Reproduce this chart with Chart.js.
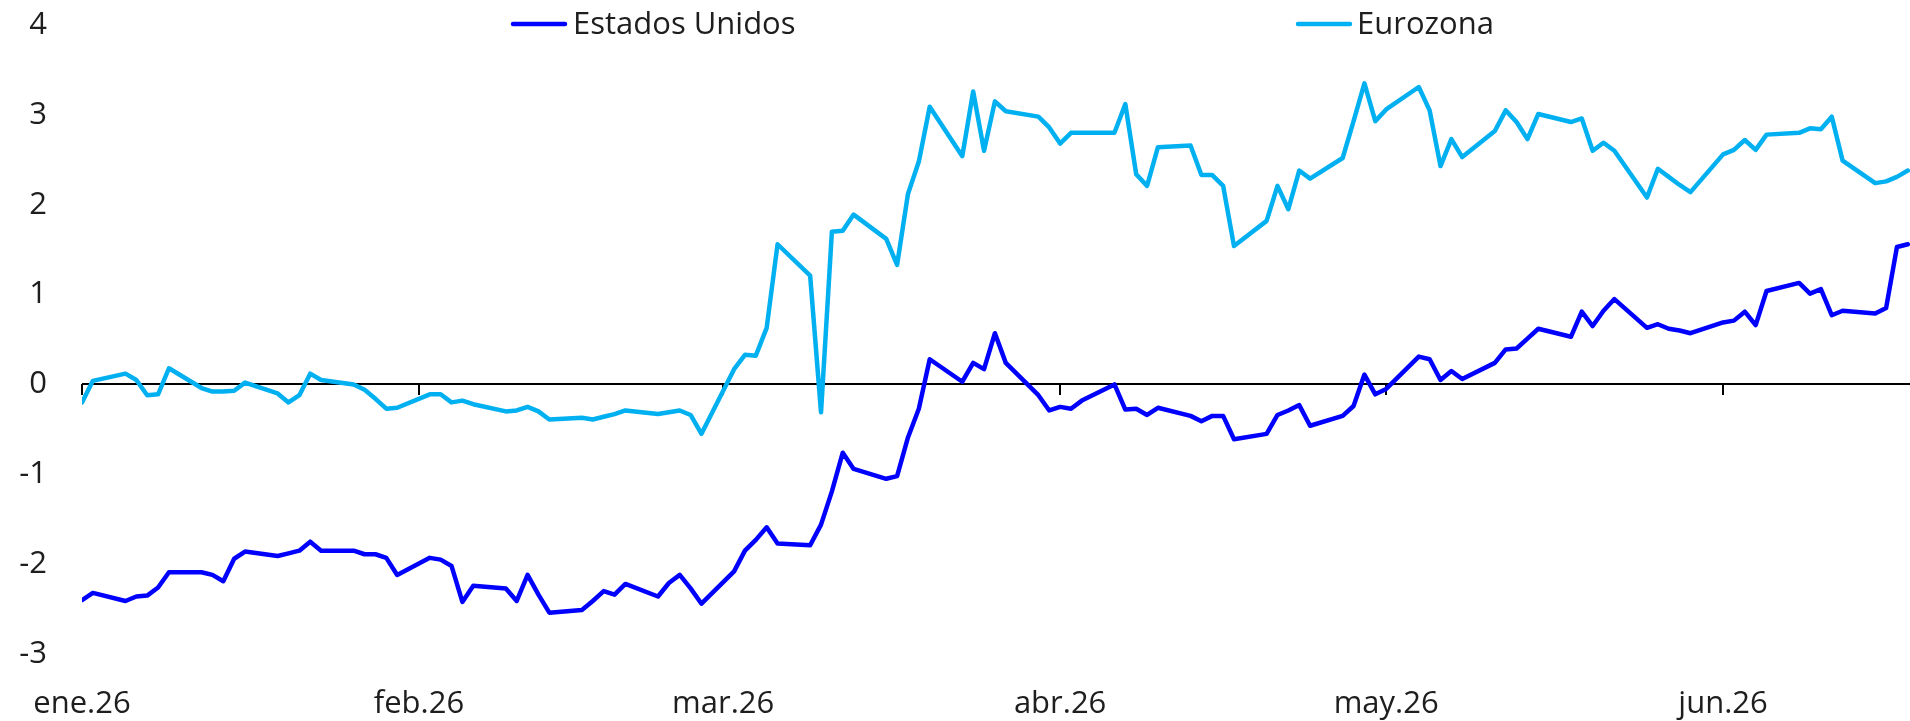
<!DOCTYPE html>
<html>
<head>
<meta charset="utf-8">
<script src="https://cdn.jsdelivr.net/npm/chart.js@4/dist/chart.umd.min.js"></script>
<style>
  html, body { margin: 0; padding: 0; background: #ffffff; }
  #wrap { width: 1910px; height: 721px; position: relative; }
</style>
</head>
<body>
<div id="wrap"><canvas id="c" width="1910" height="721"></canvas></div>
<script>
// ---- Data ----
const dates = [
  '2026-01-01','2026-01-02','2026-01-05','2026-01-06','2026-01-07','2026-01-08','2026-01-09','2026-01-12','2026-01-13','2026-01-14','2026-01-15','2026-01-16','2026-01-19','2026-01-20','2026-01-21','2026-01-22','2026-01-23','2026-01-26','2026-01-27','2026-01-28','2026-01-29','2026-01-30',
  '2026-02-02','2026-02-03','2026-02-04','2026-02-05','2026-02-06','2026-02-09','2026-02-10','2026-02-11','2026-02-12','2026-02-13','2026-02-16','2026-02-17','2026-02-18','2026-02-19','2026-02-20','2026-02-23','2026-02-24','2026-02-25','2026-02-26','2026-02-27',
  '2026-03-02','2026-03-03','2026-03-04','2026-03-05','2026-03-06','2026-03-09','2026-03-10','2026-03-11','2026-03-12','2026-03-13','2026-03-16','2026-03-17','2026-03-18','2026-03-19','2026-03-20','2026-03-23','2026-03-24','2026-03-25','2026-03-26','2026-03-27','2026-03-30','2026-03-31',
  '2026-04-01','2026-04-02','2026-04-03','2026-04-06','2026-04-07','2026-04-08','2026-04-09','2026-04-10','2026-04-13','2026-04-14','2026-04-15','2026-04-16','2026-04-17','2026-04-20','2026-04-21','2026-04-22','2026-04-23','2026-04-24','2026-04-27','2026-04-28','2026-04-29','2026-04-30',
  '2026-05-01','2026-05-04','2026-05-05','2026-05-06','2026-05-07','2026-05-08','2026-05-11','2026-05-12','2026-05-13','2026-05-14','2026-05-15','2026-05-18','2026-05-19','2026-05-20','2026-05-21','2026-05-22','2026-05-25','2026-05-26','2026-05-27','2026-05-28','2026-05-29',
  '2026-06-01','2026-06-02','2026-06-03','2026-06-04','2026-06-05','2026-06-08','2026-06-09','2026-06-10','2026-06-11','2026-06-12','2026-06-15','2026-06-16','2026-06-17','2026-06-18'
];

const estadosUnidos = [
  -2.40,-2.32,-2.41,-2.36,-2.35,-2.26,-2.09,-2.09,-2.12,-2.19,-1.94,-1.86,-1.91,-1.88,-1.85,-1.75,-1.85,-1.85,-1.89,-1.89,-1.93,-2.12,
  -1.93,-1.95,-2.02,-2.42,-2.24,-2.27,-2.41,-2.12,-2.34,-2.54,-2.51,-2.41,-2.30,-2.34,-2.22,-2.36,-2.21,-2.12,-2.27,-2.44,
  -2.08,-1.85,-1.73,-1.59,-1.77,-1.79,-1.56,-1.19,-0.76,-0.94,-1.05,-1.02,-0.59,-0.27,0.28,0.03,0.24,0.17,0.57,0.24,-0.12,-0.29,
  -0.25,-0.27,-0.18,0.00,-0.28,-0.27,-0.34,-0.26,-0.35,-0.41,-0.35,-0.35,-0.61,-0.55,-0.34,-0.29,-0.23,-0.46,-0.35,-0.24,0.11,-0.11,
  -0.05,0.31,0.28,0.05,0.15,0.06,0.24,0.39,0.40,0.51,0.62,0.53,0.81,0.65,0.82,0.95,0.63,0.67,0.62,0.60,0.57,
  0.69,0.71,0.81,0.66,1.04,1.13,1.01,1.06,0.77,0.82,0.79,0.85,1.53,1.56
];

const eurozona = [
  -0.20,0.04,0.12,0.05,-0.12,-0.11,0.18,-0.04,-0.08,-0.08,-0.07,0.02,-0.10,-0.20,-0.12,0.12,0.05,0.00,-0.06,-0.16,-0.27,-0.26,
  -0.11,-0.11,-0.20,-0.18,-0.22,-0.30,-0.29,-0.25,-0.30,-0.39,-0.37,-0.39,-0.36,-0.33,-0.29,-0.33,-0.31,-0.29,-0.34,-0.55,
  0.17,0.33,0.32,0.63,1.56,1.21,-0.31,1.70,1.71,1.89,1.62,1.33,2.12,2.48,3.09,2.54,3.26,2.60,3.15,3.04,2.98,2.86,
  2.68,2.80,2.80,2.80,3.12,2.34,2.21,2.64,2.66,2.33,2.33,2.21,1.54,1.82,2.21,1.95,2.38,2.29,2.52,2.93,3.35,2.93,
  3.06,3.31,3.05,2.43,2.73,2.53,2.82,3.05,2.92,2.73,3.01,2.92,2.96,2.60,2.69,2.60,2.08,2.40,2.31,2.22,2.14,
  2.56,2.61,2.72,2.61,2.78,2.80,2.85,2.84,2.98,2.49,2.24,2.26,2.31,2.38
];

const monthStarts = ['2026-01-01','2026-02-01','2026-03-01','2026-04-01','2026-05-01','2026-06-01'];
const monthLabels = ['ene.26','feb.26','mar.26','abr.26','may.26','jun.26'];
const yTicks = [-3,-2,-1,0,1,2,3,4];
const seriesNames = ['Estados Unidos','Eurozona'];
const seriesColors = ['#0000FF','#00B0F0'];

// ---- Helpers ----
const ORIGIN = Date.UTC(2026,0,1);
function dayIndex(s) {
  const p = s.split('-').map(Number);
  return (Date.UTC(p[0], p[1]-1, p[2]) - ORIGIN) / 86400000;
}
const monthDays = monthStarts.map(dayIndex);
const xVals = dates.map(dayIndex);

const FONT = "'Open Sans', 'Liberation Sans', sans-serif";
const TEXT = '#1e1e1e';

const axisPlugin = {
  id: 'zeroAxis',
  beforeDatasetsDraw(chart) {
    const {ctx, chartArea, scales} = chart;
    const y0 = Math.round(scales.y.getPixelForValue(0));
    ctx.save();
    ctx.strokeStyle = '#000';
    ctx.lineWidth = 2;
    ctx.beginPath();
    ctx.moveTo(chartArea.left, y0);
    ctx.lineTo(chartArea.right, y0);
    monthDays.forEach(d => {
      const x = Math.round(scales.x.getPixelForValue(d));
      ctx.moveTo(x, y0);
      ctx.lineTo(x, y0 + 11);
    });
    ctx.stroke();
    ctx.restore();
  }
};

const legendPlugin = {
  id: 'manualLegend',
  afterDraw(chart) {
    const {ctx} = chart;
    const items = [
      {x1: 513, x2: 565, tx: 573},
      {x1: 1298, x2: 1350, tx: 1357}
    ];
    ctx.save();
    ctx.font = '31px ' + FONT;
    ctx.textBaseline = 'middle';
    ctx.textAlign = 'left';
    items.forEach((it, i) => {
      ctx.strokeStyle = seriesColors[i];
      ctx.lineWidth = 4.5;
      ctx.lineCap = 'round';
      ctx.beginPath();
      ctx.moveTo(it.x1, 24);
      ctx.lineTo(it.x2, 24);
      ctx.stroke();
      ctx.fillStyle = TEXT;
      ctx.fillText(seriesNames[i], it.tx, 25);
    });
    ctx.restore();
  }
};

new Chart(document.getElementById('c'), {
  type: 'line',
  data: {
    datasets: [
      {
        label: seriesNames[0],
        data: xVals.map((x, i) => ({x: x, y: estadosUnidos[i]})),
        borderColor: seriesColors[0],
        borderWidth: 4.5,
        pointRadius: 0,
        tension: 0,
        borderJoinStyle: 'round',
        borderCapStyle: 'round',
        fill: false
      },
      {
        label: seriesNames[1],
        data: xVals.map((x, i) => ({x: x, y: eurozona[i]})),
        borderColor: seriesColors[1],
        borderWidth: 4.5,
        pointRadius: 0,
        tension: 0,
        borderJoinStyle: 'round',
        borderCapStyle: 'round',
        fill: false
      }
    ]
  },
  options: {
    responsive: false,
    animation: false,
    devicePixelRatio: 1,
    layout: { padding: { top: 25, right: 0, bottom: 0, left: 0 } },
    plugins: { legend: { display: false }, tooltip: { enabled: false } },
    scales: {
      x: {
        type: 'linear',
        min: 0,
        max: 168.2,
        grid: { display: false, drawTicks: false },
        border: { display: false },
        afterBuildTicks(scale) { scale.ticks = monthDays.map(v => ({value: v})); },
        afterFit(scale) { scale.height = 67; },
        ticks: {
          autoSkip: false,
          maxRotation: 0,
          padding: 32,
          color: TEXT,
          font: { family: FONT, size: 31 },
          callback(v) { const k = monthDays.indexOf(v); return k >= 0 ? monthLabels[k] : ''; }
        }
      },
      y: {
        min: -3,
        max: 4,
        grid: { display: false, drawTicks: false },
        border: { display: false },
        afterBuildTicks(scale) { scale.ticks = yTicks.map(v => ({value: v})); },
        afterFit(scale) { scale.width = 82; scale.paddingTop = 0; scale.paddingBottom = 0; },
        ticks: {
          padding: 35,
          color: TEXT,
          font: { family: FONT, size: 31 },
          callback(v) { return String(v); }
        }
      }
    }
  },
  plugins: [axisPlugin, legendPlugin]
});
</script>
</body>
</html>
